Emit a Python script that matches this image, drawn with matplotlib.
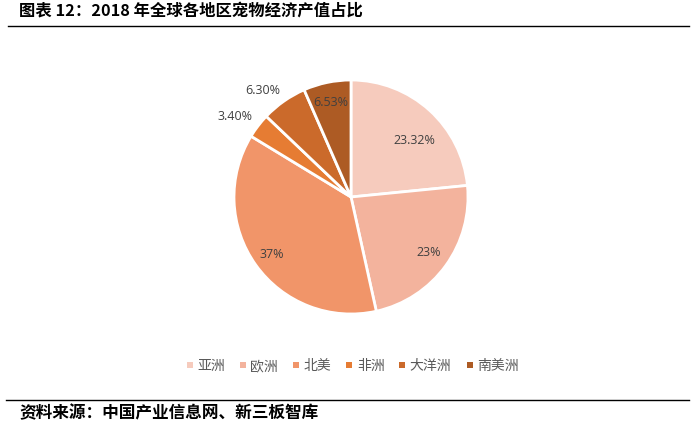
import matplotlib
matplotlib.use('Agg')
import matplotlib.pyplot as plt
from matplotlib.patches import Rectangle

plt.rcParams['font.family'] = ['Noto Sans CJK SC', 'DejaVu Sans']

regions = ['亚洲', '欧洲', '北美', '非洲', '大洋洲', '南美洲']
shares = [23.32, 23, 37, 3.40, 6.30, 6.53]
share_labels = ['23.32%', '23%', '37%', '3.40%', '6.30%', '6.53%']
colors = ['#F6CBBD', '#F3B39D', '#F19569', '#E67C33', '#CB6A2B', '#AD5B24']

title = '图表 12：2018 年全球各地区宠物经济产值占比'
source = '资料来源：中国产业信息网、新三板智库'

W, H = 696, 430
fig = plt.figure(figsize=(W / 100, H / 100), dpi=100)

# overlay in image pixels, y going down
page = fig.add_axes([0, 0, 1, 1])
page.set_xlim(0, W)
page.set_ylim(H, 0)
page.axis('off')

# pie centre (351, 197), radius 117
cx, cy, r = 351, 197, 117
ax = fig.add_axes([(cx - r) / W, 1 - (cy + r) / H, 2 * r / W, 2 * r / H])
ax.pie(shares, colors=colors, startangle=90, counterclock=False, radius=1,
       wedgeprops={'edgecolor': 'white', 'linewidth': 2})
ax.set_xlim(-1, 1)
ax.set_ylim(-1, 1)

# label positions
label_pos = [(414, 140), (429, 253), (272, 255), (235, 116), (263, 91), (331, 103)]
for (x, y), s in zip(label_pos, share_labels):
    page.text(x, y, s, ha='center', va='center', fontsize=9, color='#404040',
              family=['Open Sans', 'DejaVu Sans'], zorder=5)
ax.set_zorder(1)
page.set_zorder(2)
page.patch.set_alpha(0)

# header and footer
page.text(19, 11, title, ha='left', va='center', fontsize=11.75, weight='bold', color='black')
page.plot([8, 689], [26, 26], color='black', lw=1)
page.plot([6, 689], [400, 400], color='black', lw=1)
page.text(19, 413, source, ha='left', va='center', fontsize=12, weight='bold', color='black')

# legend
marker_x = [190, 243, 296, 349, 402, 470]
text_x = [197, 250, 304, 357, 409, 477]
for mx, tx, name, c in zip(marker_x, text_x, regions, colors):
    page.add_patch(Rectangle((mx - 3, 362), 6, 6, color=c, lw=0))
    page.text(tx, 366, name, ha='left', va='center', fontsize=10, color='#595959', weight='light')

fig.savefig('out.png', dpi=100)
